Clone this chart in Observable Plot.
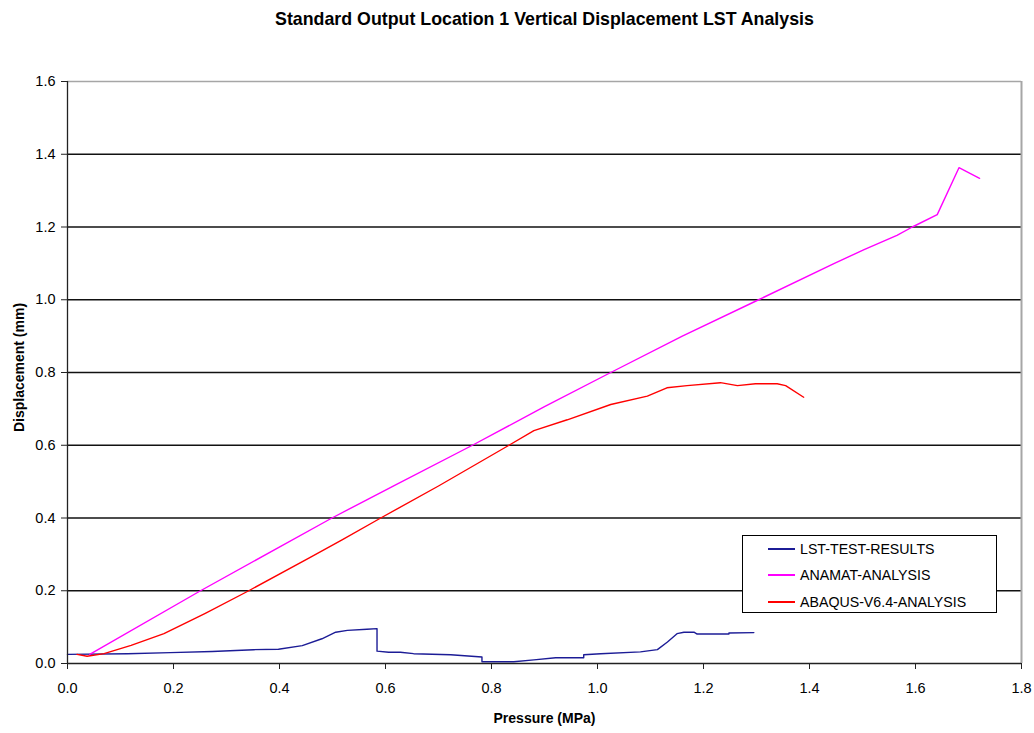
<!DOCTYPE html>
<html>
<head>
<meta charset="utf-8">
<script src="https://cdn.jsdelivr.net/npm/d3@7"></script>
<script src="https://cdn.jsdelivr.net/npm/@observablehq/plot@0.6"></script>
<style>
  html, body { margin: 0; padding: 0; background: #fff; }
  #wrap { position: relative; width: 1034px; height: 733px; font-family: "Liberation Sans", Arial, sans-serif; }
  #legend { position: absolute; left: 742px; top: 535px; width: 255px; height: 78px; background: #fff; border: 1px solid #000; box-sizing: border-box; }
  .row { position: absolute; left: 0; height: 20px; display: flex; align-items: center; font-size: 14.2px; color: #000; white-space: nowrap; }
  .sw { display: block; width: 27px; height: 2px; margin-left: 25px; margin-right: 5px; }
</style>
</head>
<body>
<div id="wrap"><div id="chart"></div><div id="legend"></div></div>
<script>
const title = "Standard Output Location 1 Vertical Displacement LST Analysis";
const xLabel = "Pressure (MPa)";
const yLabel = "Displacement (mm)";
const xTicks = [0.0, 0.2, 0.4, 0.6, 0.8, 1.0, 1.2, 1.4, 1.6, 1.8];
const yTicks = [0.0, 0.2, 0.4, 0.6, 0.8, 1.0, 1.2, 1.4, 1.6];
const seriesNames = ["LST-TEST-RESULTS", "ANAMAT-ANALYSIS", "ABAQUS-V6.4-ANALYSIS"];
const seriesColors = ["#1c1c96", "#ff00ff", "#ff0000"];

// LST-TEST-RESULTS
const lstP = [0.000, 0.113, 0.194, 0.273, 0.351, 0.398, 0.443, 0.480, 0.506, 0.528, 0.565, 0.584, 0.584, 0.606, 0.628, 0.653, 0.723, 0.782, 0.782, 0.842, 0.880, 0.921, 0.974, 0.974, 1.006, 1.081, 1.113, 1.132, 1.150, 1.163, 1.182, 1.188, 1.248, 1.248, 1.295];
const lstD = [0.025, 0.027, 0.030, 0.033, 0.038, 0.039, 0.049, 0.068, 0.086, 0.091, 0.094, 0.096, 0.034, 0.031, 0.031, 0.027, 0.024, 0.018, 0.005, 0.005, 0.010, 0.016, 0.016, 0.024, 0.027, 0.032, 0.038, 0.059, 0.082, 0.086, 0.086, 0.081, 0.081, 0.084, 0.085];

// ANAMAT-ANALYSIS
const anaP = [0.042, 0.251, 0.499, 0.620, 0.764, 0.900, 1.025, 1.160, 1.304, 1.446, 1.503, 1.565, 1.594, 1.641, 1.682, 1.721];
const anaD = [0.025, 0.200, 0.400, 0.492, 0.600, 0.706, 0.800, 0.900, 1.000, 1.099, 1.138, 1.177, 1.200, 1.234, 1.363, 1.334];

// ABAQUS-V6.4-ANALYSIS
const abaP = [0.018, 0.037, 0.069, 0.120, 0.182, 0.260, 0.342, 0.458, 0.518, 0.591, 0.700, 0.833, 0.880, 0.943, 1.025, 1.094, 1.131, 1.169, 1.232, 1.264, 1.298, 1.339, 1.355, 1.389];
const abaD = [0.025, 0.020, 0.027, 0.050, 0.082, 0.138, 0.200, 0.292, 0.340, 0.400, 0.488, 0.600, 0.640, 0.670, 0.712, 0.735, 0.758, 0.764, 0.772, 0.764, 0.769, 0.769, 0.764, 0.732];

const rows = [];
[[lstP, lstD], [anaP, anaD], [abaP, abaD]].forEach(([ps, ds], i) => {
  ps.forEach((p, j) => rows.push({series: seriesNames[i], p, d: ds[j]}));
});

const fmt = d => d.toFixed(1);

const chart = Plot.plot({
  width: 1034,
  height: 733,
  marginLeft: 67,
  marginRight: 13,
  marginTop: 81,
  marginBottom: 70,
  style: {fontFamily: '"Liberation Sans", Arial, sans-serif', fontSize: "14.5px", color: "#000", background: "#fff"},
  x: {domain: [0, 1.8]},
  y: {domain: [0, 1.6]},
  color: {domain: seriesNames, range: seriesColors},
  marks: [
    Plot.gridY(yTicks.slice(1, -1), {stroke: "#111", strokeOpacity: 1, strokeWidth: 1.3}),
    Plot.ruleY([yTicks[yTicks.length - 1]], {stroke: "#a6a6a6", strokeWidth: 1.3}),
    Plot.ruleX([xTicks[xTicks.length - 1]], {stroke: "#a6a6a6", strokeWidth: 2}),
    Plot.line(rows, {x: "p", y: "d", z: "series", stroke: "series", strokeWidth: 1.4}),
    Plot.ruleX([0], {stroke: "#222", strokeWidth: 1.3}),
    Plot.ruleY([0], {stroke: "#222", strokeWidth: 1.3}),
    Plot.axisX(xTicks, {tickFormat: fmt, tickSize: 6, tickPadding: 13, label: null, stroke: "#222"}),
    Plot.axisY(yTicks, {tickFormat: fmt, tickSize: 6, tickPadding: 6, label: null, stroke: "#222"}),
    Plot.text([title], {frameAnchor: "top", dy: -62, fontWeight: "bold", fontSize: 17.8, textAnchor: "middle", lineAnchor: "middle"}),
    Plot.text([xLabel], {frameAnchor: "bottom", dy: 55, fontWeight: "bold", fontSize: 14, textAnchor: "middle", lineAnchor: "middle"}),
    Plot.text([yLabel], {frameAnchor: "left", dx: -48, dy: -5, rotate: -90, fontWeight: "bold", fontSize: 14, textAnchor: "middle", lineAnchor: "middle"})
  ]
});
document.getElementById("chart").appendChild(chart);

const legend = document.getElementById("legend");
const rowTops = [3, 29, 56];
seriesNames.forEach((name, i) => {
  const r = document.createElement("div");
  r.className = "row";
  r.style.top = rowTops[i] + "px";
  const sw = document.createElement("span");
  sw.className = "sw";
  sw.style.backgroundColor = seriesColors[i];
  r.appendChild(sw);
  r.appendChild(document.createTextNode(name));
  legend.appendChild(r);
});
</script>
</body>
</html>
